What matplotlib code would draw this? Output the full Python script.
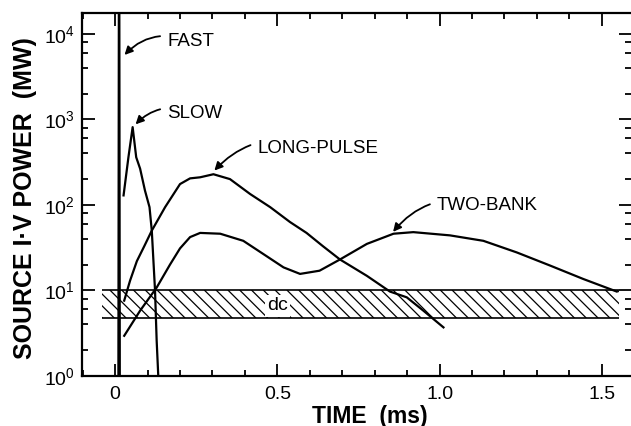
import numpy as np
import matplotlib.pyplot as plt
from matplotlib.ticker import LogLocator, MultipleLocator, FixedLocator, FixedFormatter, NullFormatter
from matplotlib.patches import Rectangle

plt.rcParams['font.family'] = ['Liberation Sans', 'DejaVu Sans']

# time in ms, power in MW
fast_t = [0.010, 0.0115, 0.013, 0.0145]
fast_p = [0.5, 18000, 18000, 0.5]

slow_t = [0.026, 0.041, 0.054, 0.065, 0.077, 0.092, 0.106, 0.113, 0.123, 0.128, 0.133]
slow_p = [129, 360, 810, 360, 265, 147, 94, 50, 10, 2.6, 1.0]

long_t = [0.028, 0.046, 0.067, 0.090, 0.113, 0.154, 0.200, 0.231, 0.262, 0.303,
          0.354, 0.416, 0.478, 0.539, 0.590, 0.640, 0.693, 0.776, 0.847, 0.899,
          0.950, 1.012]
long_p = [7.6, 13, 22, 33, 50, 94, 175, 204, 210, 228,
          200, 134, 94, 63, 47, 33, 23, 14.8, 9.7, 8.3,
          5.8, 3.7]

two_t = [0.028, 0.077, 0.128, 0.169, 0.200, 0.231, 0.262, 0.324, 0.395, 0.457,
         0.519, 0.570, 0.630, 0.693, 0.776, 0.858, 0.919, 1.032, 1.135, 1.238,
         1.341, 1.443, 1.546]
two_p = [2.95, 5.8, 10.8, 20, 31, 42, 47, 46, 38, 26.6,
         18.6, 15.6, 17, 23, 35, 46, 48, 44, 38, 27.8,
         19.5, 13.6, 9.7]

dc_t = [-0.040, 1.552]
dc_lo, dc_hi = 4.8, 10.0

x_major = [0, 0.5, 1.0, 1.5]
x_labels = ['0', '0.5', '1.0', '1.5']

fig = plt.figure(figsize=(6.31, 4.26), dpi=100)
ax = fig.add_axes([0.130, 0.1174, 0.870, 0.8526])

ax.set_yscale('log')
ax.set_xlim(-0.102, 1.590)
ax.set_ylim(1, 10 ** 4.245)

lw = 1.6
ax.plot(fast_t, fast_p, color='black', lw=lw)
ax.plot(slow_t, slow_p, color='black', lw=lw)
ax.plot(long_t, long_p, color='black', lw=lw)
ax.plot(two_t, two_p, color='black', lw=lw)

# dc band: edges + hand-drawn hatching
ax.hlines([dc_lo, dc_hi], dc_t[0], dc_t[1], color='black', lw=1.2)
band = Rectangle((dc_t[0], dc_lo), dc_t[1] - dc_t[0], dc_hi - dc_lo,
                 fill=False, edgecolor='none')
ax.add_patch(band)
inv = ax.transData.inverted()
(x_left, y_top) = ax.transData.transform((dc_t[0], dc_hi))
(x_right, y_bot) = ax.transData.transform((dc_t[1], dc_lo))
h = y_top - y_bot
for xs in np.arange(x_left - h, x_right + h, 11.8):
    p1 = inv.transform((xs, y_top))
    p2 = inv.transform((xs + h, y_bot))
    hl, = ax.plot([p1[0], p2[0]], [p1[1], p2[1]], color='black', lw=0.9)
    hl.set_clip_path(band)
ax.text(0.50, 6.6, 'dc', fontsize=14, ha='center', va='center',
        bbox=dict(facecolor='white', edgecolor='none', pad=1.5))

# labels with curved arrows
arrow = dict(arrowstyle='-|>', color='black', lw=1.3,
             connectionstyle='arc3,rad=0.35', shrinkA=3, shrinkB=1,
             mutation_scale=12)
ax.annotate('FAST', xy=(0.026, 5500), xytext=(0.160, 8100), fontsize=13.5,
            ha='left', va='center', arrowprops=arrow)
ax.annotate('SLOW', xy=(0.060, 850), xytext=(0.160, 1180), fontsize=13.5,
            ha='left', va='center', arrowprops=arrow)
ax.annotate('LONG-PULSE', xy=(0.303, 245), xytext=(0.438, 455), fontsize=13.5,
            ha='left', va='center', arrowprops=arrow)
ax.annotate('TWO-BANK', xy=(0.854, 47), xytext=(0.991, 98), fontsize=13.5,
            ha='left', va='center', arrowprops=arrow)

# ticks
ax.xaxis.set_major_locator(FixedLocator(x_major))
ax.xaxis.set_major_formatter(FixedFormatter(x_labels))
ax.xaxis.set_minor_locator(MultipleLocator(0.1))
ax.yaxis.set_major_locator(LogLocator(base=10, numticks=10))
ax.yaxis.set_minor_locator(LogLocator(base=10, subs=(2, 4, 6, 8), numticks=10))
ax.yaxis.set_minor_formatter(NullFormatter())
ax.tick_params(which='both', direction='in', top=True, right=True, width=1.3)
ax.tick_params(which='major', length=9, labelsize=14)
ax.tick_params(which='minor', length=4.5)
ax.tick_params(axis='x', pad=7)
ax.tick_params(axis='y', pad=5)

for side in ['left', 'bottom', 'top']:
    ax.spines[side].set_linewidth(1.6)
ax.spines['right'].set_visible(False)

fig.text(370 / 631, 1 - 416 / 426, 'TIME  (ms)', fontsize=16.5,
         fontweight='bold', ha='center', va='center')
fig.text(25 / 631, 1 - 198 / 426, 'SOURCE I\u00b7V POWER  (MW)', fontsize=18,
         fontweight='bold', ha='center', va='center', rotation=90)

fig.savefig('out.png', dpi=100)
